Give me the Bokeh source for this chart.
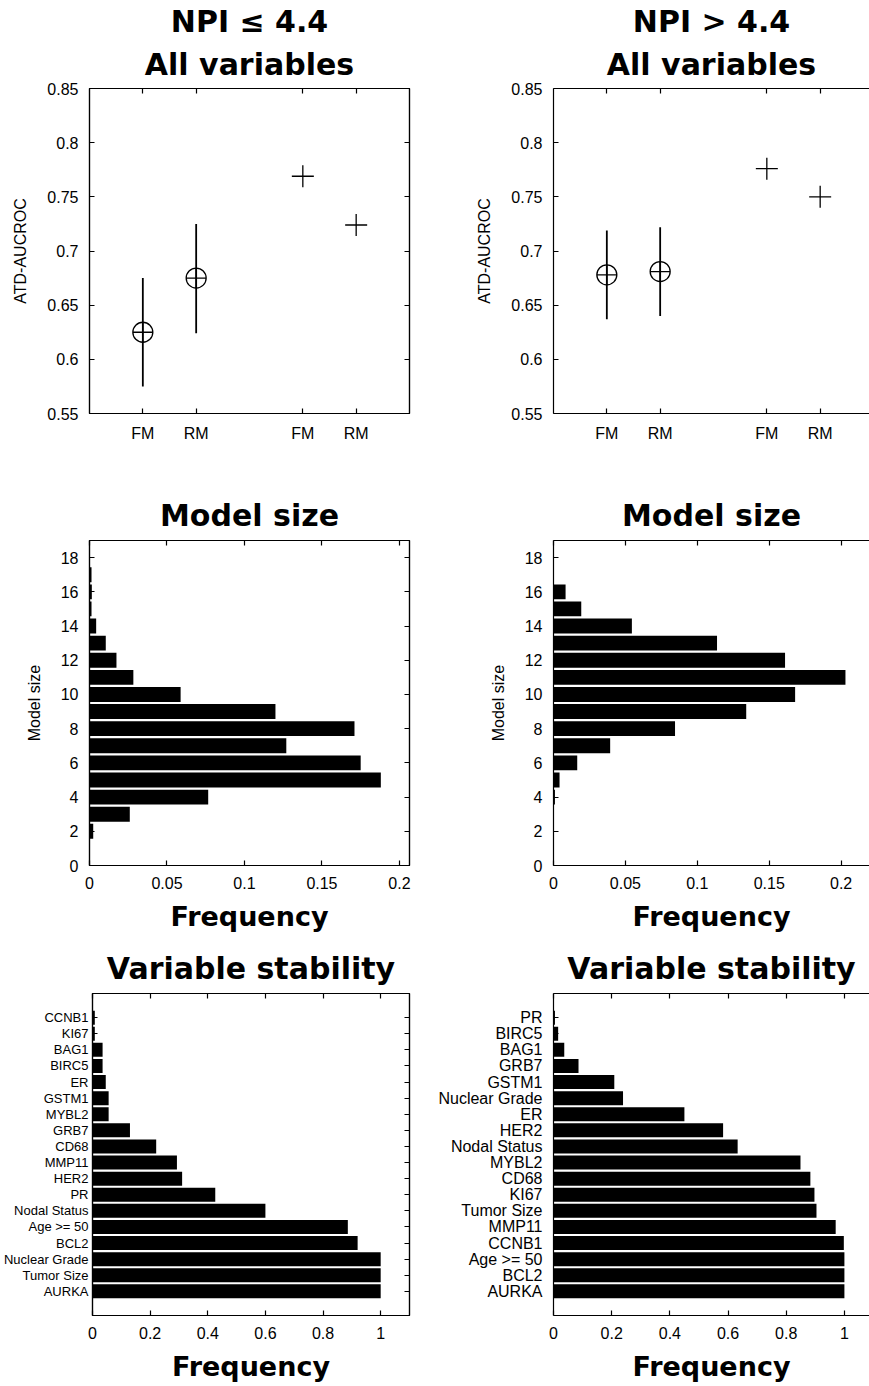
from bokeh.plotting import figure
from bokeh.layouts import column, row
from bokeh.models import (Range1d, FactorRange, FixedTicker, LinearAxis, CategoricalAxis,
                          Title, ColumnDataSource, CustomJSTickFormatter)
from bokeh.embed import file_html
from bokeh.resources import INLINE

# ---------------- data ----------------
methods = ["FM", "RM"]
cv_slots = [1, 2]          # cross-validated estimates (circle + interval)
full_slots = [4, 5]        # full-data estimates (plus marker)

low_cv_mean = [0.625, 0.675]
low_cv_lo = [0.575, 0.624]
low_cv_hi = [0.675, 0.725]
low_full = [0.769, 0.724]

high_cv_mean = [0.678, 0.681]
high_cv_lo = [0.637, 0.640]
high_cv_hi = [0.719, 0.722]
high_full = [0.776, 0.750]

auc_ticks = [0.55, 0.6, 0.65, 0.7, 0.75, 0.8, 0.85]

size_low = [2, 3, 4, 5, 6, 7, 8, 9, 10, 11, 12, 13, 14, 15, 16, 17]
freq_size_low = [0.0024, 0.026, 0.0766, 0.188, 0.175, 0.127, 0.171, 0.120,
                 0.0588, 0.0283, 0.0174, 0.0105, 0.0043, 0.0013, 0.0015, 0.0013]
size_high = [4, 5, 6, 7, 8, 9, 10, 11, 12, 13, 14, 15, 16]
freq_size_high = [0.0010, 0.0042, 0.0165, 0.0394, 0.0845, 0.134, 0.168, 0.203,
                  0.161, 0.1137, 0.0545, 0.0193, 0.0084]
size_ticks = [0, 2, 4, 6, 8, 10, 12, 14, 16, 18]
size_freq_ticks = [0, 0.05, 0.1, 0.15, 0.2]

# bottom -> top
vars_low = ["AURKA", "Tumor Size", "Nuclear Grade", "BCL2", "Age >= 50", "Nodal Status",
            "PR", "HER2", "MMP11", "CD68", "GRB7", "MYBL2", "GSTM1", "ER", "BIRC5",
            "BAG1", "KI67", "CCNB1"]
stab_low = [1.0, 1.0, 1.0, 0.92, 0.886, 0.60, 0.426, 0.311, 0.293, 0.221, 0.130,
            0.056, 0.056, 0.046, 0.035, 0.035, 0.008, 0.008]
vars_high = ["AURKA", "BCL2", "Age >= 50", "CCNB1", "MMP11", "Tumor Size", "KI67", "CD68",
             "MYBL2", "Nodal Status", "HER2", "ER", "Nuclear Grade", "GSTM1", "GRB7",
             "BAG1", "BIRC5", "PR"]
stab_high = [1.0, 1.0, 1.0, 0.998, 0.970, 0.904, 0.897, 0.883, 0.849, 0.633, 0.583,
             0.450, 0.239, 0.209, 0.086, 0.037, 0.016, 0.005]
stab_ticks = [0, 0.2, 0.4, 0.6, 0.8, 1]

# ---------------- layout constants ----------------
FONT = "Liberation Sans"
TFONT = "DejaVu Sans"
L_LEFT, L_FRAME, L_RIGHT = 89, 320, 20
R_LEFT, R_FRAME = 124, 316
REF_FRAME = 320.0
RS = R_FRAME / REF_FRAME   # right panels are cut at the window edge


def num_fmt():
    return CustomJSTickFormatter(code="return String(tick);")


def style(ax, labels=True):
    ax.axis_line_color = "black"
    ax.axis_line_width = 1.2
    ax.major_tick_line_color = "black"
    ax.major_tick_line_width = 1.2
    ax.major_tick_in = 5
    ax.major_tick_out = 0
    ax.minor_tick_line_color = None
    ax.major_label_text_font = FONT
    if labels:
        ax.major_label_text_color = "black"
        ax.major_label_text_font_size = "16px"
        ax.major_label_standoff = 11
    else:
        ax.major_label_text_color = None
        ax.major_label_text_alpha = 0
        ax.major_label_text_font_size = "1px"
        ax.major_label_standoff = 0
    ax.axis_label_text_font = FONT
    ax.axis_label_text_font_size = "16px"
    ax.axis_label_text_font_style = "normal"
    ax.axis_label_text_color = "black"
    ax.axis_label_standoff = 15


def freq_label(ax):
    ax.axis_label = "Frequency"
    ax.axis_label_text_font = TFONT
    ax.axis_label_text_font_size = "27px"
    ax.axis_label_text_font_style = "bold"
    ax.axis_label_standoff = 9


def make_fig(col, height, top, bottom, x_range, y_range):
    if col == 0:
        w, ml, mr = L_LEFT + L_FRAME + L_RIGHT, L_LEFT, L_RIGHT
    else:
        w, ml, mr = R_LEFT + R_FRAME, R_LEFT, 0
    p = figure(width=w, height=height, x_range=x_range, y_range=y_range,
               output_backend="svg", toolbar_location=None, title=None,
               min_border_left=ml, min_border_right=mr,
               min_border_top=top, min_border_bottom=bottom)
    p.xgrid.visible = False
    p.ygrid.visible = False
    p.background_fill_color = "white"
    p.border_fill_color = "white"
    p.outline_line_color = "black" if col == 0 else None
    p.outline_line_width = 1.2
    return p


def add_titles(p, lines, standoff_inner=13):
    # first added sits closest to the frame
    for i, t in enumerate(reversed(lines)):
        p.add_layout(Title(text=t, align="center", text_font=TFONT, text_font_size="30px",
                           text_font_style="bold", text_color="black",
                           standoff=standoff_inner if i == 0 else 0), "above")


def auc_panel(col, cv_mean, cv_lo, cv_hi, full, title_lines):
    xr = Range1d(0, 6 * (1 if col == 0 else RS))
    p = make_fig(col, 455, 88, 42, xr, Range1d(0.55, 0.85))
    slots = cv_slots + full_slots
    overrides = dict(zip(slots, methods + methods))
    style(p.xaxis[0])
    p.xaxis.ticker = FixedTicker(ticks=slots)
    p.xaxis.major_label_overrides = overrides
    style(p.yaxis[0])
    p.yaxis.ticker = FixedTicker(ticks=auc_ticks)
    p.yaxis.formatter = num_fmt()
    p.yaxis.axis_label = "ATD-AUCROC"
    top = LinearAxis(ticker=FixedTicker(ticks=slots))
    style(top, labels=False)
    p.add_layout(top, "above")
    if col == 0:
        right = LinearAxis(ticker=FixedTicker(ticks=auc_ticks))
        style(right, labels=False)
        p.add_layout(right, "right")
    add_titles(p, title_lines)
    p.segment(x0=cv_slots, y0=cv_lo, x1=cv_slots, y1=cv_hi, line_color="black", line_width=1.8)
    p.scatter(x=cv_slots, y=cv_mean, marker="circle_cross", size=20, line_color="black",
              fill_color=None, line_width=1.3)
    p.scatter(x=full_slots, y=full, marker="cross", size=22, line_color="black", line_width=1.3)
    return p


def size_panel(col, sizes, freqs, xmax):
    p = make_fig(col, 485, 85, 75, Range1d(0, xmax), Range1d(0, 19))
    style(p.xaxis[0])
    p.xaxis.ticker = FixedTicker(ticks=size_freq_ticks)
    p.xaxis.formatter = num_fmt()
    freq_label(p.xaxis[0])
    style(p.yaxis[0])
    p.yaxis.ticker = FixedTicker(ticks=size_ticks)
    p.yaxis.formatter = num_fmt()
    p.yaxis.axis_label = "Model size"
    top = LinearAxis(ticker=FixedTicker(ticks=size_freq_ticks))
    style(top, labels=False)
    p.add_layout(top, "above")
    if col == 0:
        right = LinearAxis(ticker=FixedTicker(ticks=size_ticks))
        style(right, labels=False)
        p.add_layout(right, "right")
    add_titles(p, ["Model size"], standoff_inner=15)
    p.hbar(y=sizes, right=freqs, left=0, height=0.87, fill_color="black", line_color=None)
    return p


def stab_panel(col, names, freqs, xmax):
    yr = FactorRange(factors=names, range_padding=1, range_padding_units="absolute")
    p = make_fig(col, 444, 52, 68, Range1d(0, xmax), yr)
    style(p.xaxis[0])
    p.xaxis.ticker = FixedTicker(ticks=stab_ticks)
    p.xaxis.formatter = num_fmt()
    freq_label(p.xaxis[0])
    style(p.yaxis[0])
    if col == 0:
        # the left panel has little room left of its frame
        p.yaxis.major_label_text_font_size = "13px"
        p.yaxis.major_label_standoff = 4
        right = CategoricalAxis()
        style(right, labels=False)
        p.add_layout(right, "right")
    top = LinearAxis(ticker=FixedTicker(ticks=stab_ticks))
    style(top, labels=False)
    p.add_layout(top, "above")
    add_titles(p, ["Variable stability"], standoff_inner=16)
    src = ColumnDataSource(dict(name=names, freq=freqs))
    p.hbar(y="name", right="freq", left=0, height=0.87, source=src,
           fill_color="black", line_color=None)
    return p


p1 = auc_panel(0, low_cv_mean, low_cv_lo, low_cv_hi, low_full, ["NPI \u2264 4.4", "All variables"])
p2 = auc_panel(1, high_cv_mean, high_cv_lo, high_cv_hi, high_full, ["NPI > 4.4", "All variables"])
p3 = size_panel(0, size_low, freq_size_low, 0.2065)
p4 = size_panel(1, size_high, freq_size_high, 0.2225 * RS)
p5 = stab_panel(0, vars_low, stab_low, 1.1)
p6 = stab_panel(1, vars_high, stab_high, 1.1 * RS)

layout = column(row(p1, p2), row(p3, p4), row(p5, p6))
open("out.html", "w").write(file_html(layout, INLINE, title="NPI model comparison"))
